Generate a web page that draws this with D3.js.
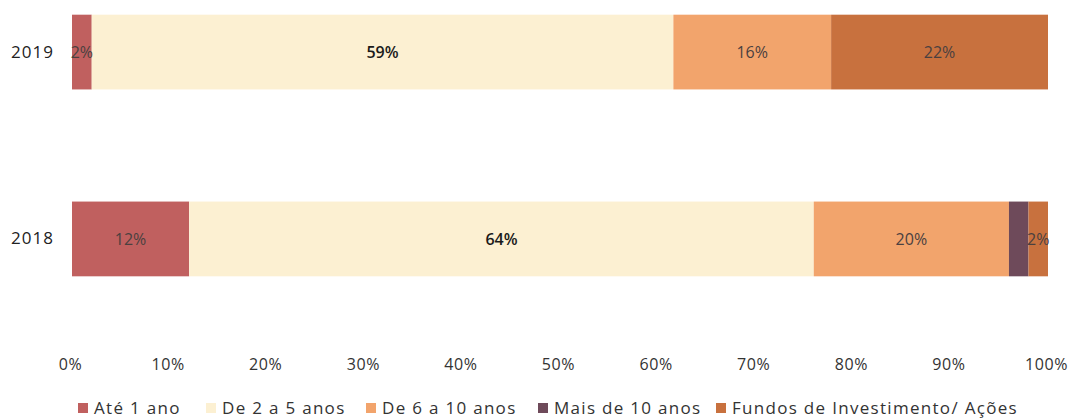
<!DOCTYPE html>
<html><head><meta charset="utf-8">
<script src="https://cdn.jsdelivr.net/npm/d3@7"></script>
<style>body{margin:0;background:#fff}svg{display:block}</style>
</head><body>
<script>
const categories = ["2019", "2018"];
const seriesNames = ["Até 1 ano", "De 2 a 5 anos", "De 6 a 10 anos", "Mais de 10 anos", "Fundos de Investimento/ Ações"];
const ate1 = [2, 12];
const de2a5 = [59, 64];
const de6a10 = [16, 20];
const mais10 = [0, 2];
const fundos = [22, 2];
const showLabel = [true, true, true, false, true];
const colors = ["#c0605f", "#fcf0d2", "#f2a46c", "#6e4a5a", "#c8713e"];
const tickValues = [0, 0.1, 0.2, 0.3, 0.4, 0.5, 0.6, 0.7, 0.8, 0.9, 1.0];

const W = 1072, H = 419;
const svg = d3.select("body").append("svg").attr("width", W).attr("height", H);
const font = "'Open Sans', 'DejaVu Sans', sans-serif";

const seriesVals = [ate1, de2a5, de6a10, mais10, fundos];
const rows = categories.map((c, i) => {
  const r = {cat: c};
  seriesNames.forEach((s, j) => r[s] = seriesVals[j][i]);
  return r;
});
const stack = d3.stack().keys(seriesNames).offset(d3.stackOffsetExpand);
const stacked = stack(rows);

const x = d3.scaleLinear().domain([0, 1]).range([72, 1048]);
const y = d3.scaleBand().domain(categories).range([-4, 295]).paddingInner(0.6).paddingOuter(0.1);

const g = svg.append("g");
stacked.forEach((layer, j) => {
  g.selectAll(null).data(layer).enter().append("rect")
    .attr("x", d => x(d[0]))
    .attr("y", d => y(d.data.cat))
    .attr("width", d => Math.max(0, x(d[1]) - x(d[0])))
    .attr("height", y.bandwidth())
    .attr("fill", colors[j]);
});
stacked.forEach((layer, j) => {
  if (!showLabel[j]) return;
  g.selectAll(null).data(layer.filter(d => d.data[seriesNames[j]] > 0)).enter().append("text")
    .attr("x", d => (x(d[0]) + x(d[1])) / 2)
    .attr("y", d => y(d.data.cat) + y.bandwidth() / 2)
    .attr("dy", "0.35em")
    .attr("text-anchor", "middle")
    .attr("font-family", font)
    .attr("font-size", 16)
    .attr("font-weight", j === 1 ? 600 : 400)
    .attr("fill", j === 1 ? "#1a1a1a" : "#4a4040")
    .text(d => d.data[seriesNames[j]] + "%");
});

// category labels
const yAxis = d3.axisLeft(y).tickSize(0).tickPadding(16);
const ya = svg.append("g").attr("transform", "translate(70,0)").call(yAxis);
ya.select(".domain").remove();
ya.selectAll("text").attr("font-family", font).attr("font-size", 17)
  .attr("letter-spacing", 1).attr("fill", "#222");

// x axis
const xAxis = d3.axisBottom(x).tickValues(tickValues).tickFormat(d3.format(".0%")).tickSize(0).tickPadding(0);
const xa = svg.append("g").attr("transform", "translate(-2,359)").call(xAxis);
xa.select(".domain").remove();
xa.selectAll("text").attr("font-family", font).attr("font-size", 16)
  .attr("letter-spacing", 0.6).attr("fill", "#333");

// legend
const legendX = [78, 206, 366, 538, 716];
const lg = svg.append("g").attr("transform", "translate(0,408)");
seriesNames.forEach((s, j) => {
  lg.append("rect").attr("x", legendX[j]).attr("y", -5).attr("width", 10).attr("height", 10).attr("fill", colors[j]);
  lg.append("text").attr("x", legendX[j] + 16).attr("y", 0).attr("dy", "0.35em")
    .attr("font-family", font).attr("font-size", 17).attr("letter-spacing", 1.3)
    .attr("fill", "#333").text(s);
});
</script>
</body></html>
